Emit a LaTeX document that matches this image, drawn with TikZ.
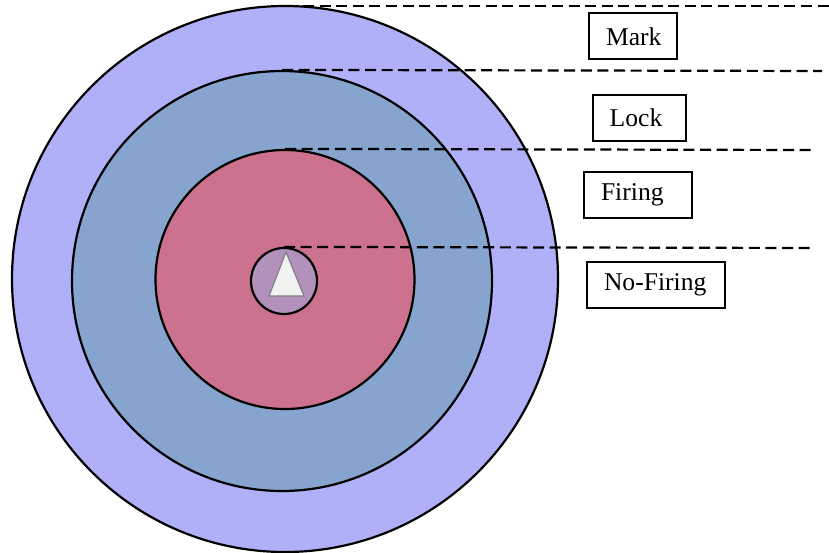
\documentclass[tikz,border=0pt]{standalone}
\usepackage{fontspec}
\setmainfont{Liberation Serif}
\usepackage{tikz}
\usetikzlibrary{positioning}
\definecolor{zoneMark}{RGB}{176, 176, 248}
\definecolor{zoneLock}{RGB}{134, 164, 206}
\definecolor{zoneFire}{RGB}{204, 114, 142}
\definecolor{zoneSafe}{RGB}{178, 146, 188}
\definecolor{conePale}{RGB}{242, 242, 242}
\tikzset{
    ring/.style={circle, draw=black, line width=1.1pt, inner sep=0pt},
    guide/.style={draw=black, line width=1.1pt, dash pattern=on 5.5pt off 2.8pt},
    tag/.style={draw=black, line width=1pt, fill=white, anchor=north west,
        inner xsep=8.5pt, inner ysep=0pt, minimum height=23pt, align=left,
        font=\fontsize{12.8pt}{15pt}\selectfont}
}
\begin{document}
\begin{tikzpicture}[x=0.5pt, y=-0.5pt]
    \useasboundingbox (0,0) rectangle (829,552);
    % target zones
    \node[ring, fill=zoneMark, minimum size=273pt] (markzone) at (285,279) {};
    \node[ring, fill=zoneLock, minimum size=210pt] (lockzone) at (282,281) {};
    \node[ring, fill=zoneFire, minimum size=129.5pt] (firezone) at (285,279.5) {};
    \node[ring, fill=zoneSafe, minimum size=33pt] (safezone) at (284,281) {};
    \draw[draw=gray, line width=0.6pt, fill=conePale] (286,252) -- (304,296) -- (269,296) -- cycle;
    % range borders
    \coordinate (markstart) at (303,6);
    \coordinate (markend) at (829,6);
    \coordinate (lockend) at (822,71);
    \coordinate (fireend) at (815,150);
    \coordinate (safeend) at (813,248);
    \draw[guide] (markstart) -- (markend);
    \draw[guide] (lockzone.north) -- (lockend);
    \draw[guide] (firezone.north) -- (fireend);
    \draw[guide] (safezone.north) -- (safeend);
    % labels
    \node[tag, text width=27pt] (marktag) at (588,12.3) {Mark};
    \node[tag, text width=29.5pt] (locktag) at (591.7,94) {Lock};
    \node[tag, text width=37pt] (firetag) at (583,170.7) {Firing};
    \node[tag, text width=52pt] (safetag) at (586,261) {No-Firing};
\end{tikzpicture}
\end{document}
